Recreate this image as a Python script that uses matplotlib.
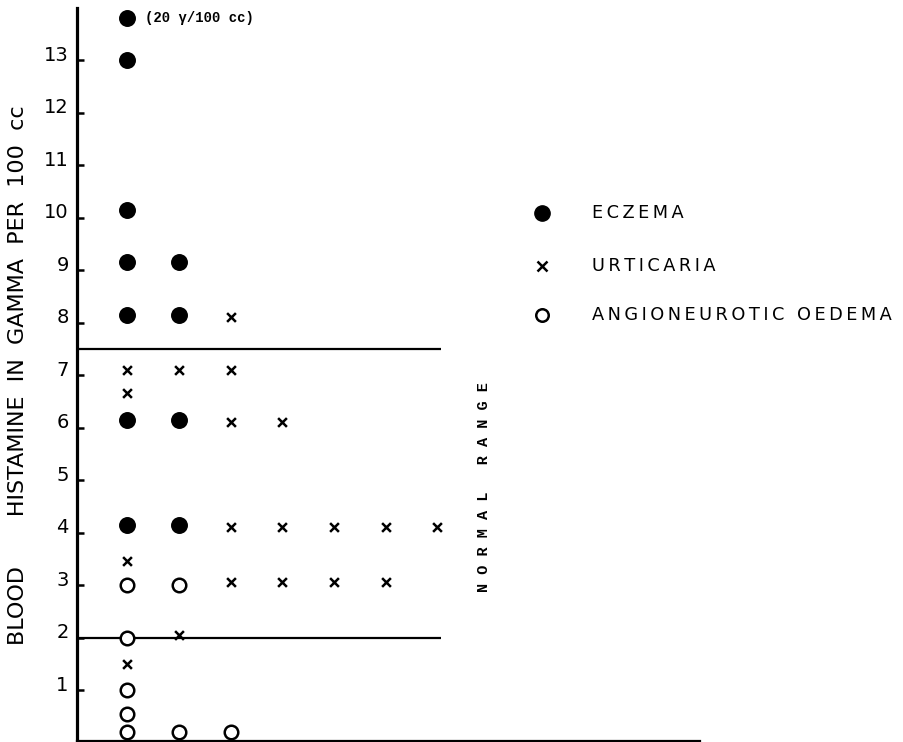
import matplotlib
matplotlib.use("Agg")
import matplotlib.pyplot as plt
from matplotlib.transforms import ScaledTranslation

# ---- data ----
eczema_x = [1, 1, 1, 1, 1, 1, 1, 2, 2, 2, 2]
eczema_y = [13.8, 13.0, 10.15, 9.15, 8.15, 6.15, 4.15, 9.15, 8.15, 6.15, 4.15]

urticaria_x = [1, 1, 1, 1, 2, 2, 3, 3, 3, 3, 3, 4, 4, 4, 5, 5, 6, 6, 7]
urticaria_y = [7.1, 6.65, 3.45, 1.5, 7.1, 2.05, 8.1, 7.1, 6.1, 4.1, 3.05,
               6.1, 4.1, 3.05, 4.1, 3.05, 4.1, 3.05, 4.1]

angio_x = [1, 1, 1, 1, 1, 2, 2, 3]
angio_y = [3.0, 2.0, 1.0, 0.55, 0.2, 3.0, 0.2, 0.2]

normal_low, normal_high = 2.0, 7.5
yticks = list(range(1, 14))
series_names = ["ECZEMA", "URTICARIA", "ANGIONEUROTIC OEDEMA"]
ylabel = "BLOOD       HISTAMINE  IN  GAMMA  PER  100  cc"
off_scale_note = "(20 γ/100 cc)"


def spaced(s):
    # letter-spaced lettering using thin spaces
    return "\u2009".join(s)


# ---- figure ----
W, H = 904, 742
fig = plt.figure(figsize=(W / 100, H / 100), dpi=100)
ax = fig.add_axes([77 / W, 1.5 / H, (700 - 77) / W, (741 - 8) / H])
ax.set_xlim(0.03, 12.08)
ax.set_ylim(0.04, 14.0)

for s in ["top", "right"]:
    ax.spines[s].set_visible(False)
ax.spines["left"].set_linewidth(2.3)
ax.spines["bottom"].set_linewidth(1.6)
ax.set_xticks([])
ax.set_yticks(yticks)
ax.set_yticklabels([str(t) for t in yticks], fontsize=14, family="DejaVu Sans")
ax.tick_params(axis="y", direction="in", length=5, width=1.8, pad=6)
for lab in ax.get_yticklabels():
    lab.set_transform(lab.get_transform() + ScaledTranslation(0, 5 / 72, fig.dpi_scale_trans))

# normal range lines
ax.plot([0.03, 7.07], [normal_high, normal_high], color="black", lw=1.6, solid_capstyle="butt")
ax.plot([0.03, 7.07], [normal_low, normal_low], color="black", lw=1.6, solid_capstyle="butt")

ax.scatter(eczema_x, eczema_y, s=125, c="black", marker="o", zorder=3, clip_on=False)
ax.scatter(urticaria_x, urticaria_y, s=40, c="black", marker="x", linewidths=1.8, zorder=3)
ax.scatter(angio_x, angio_y, s=95, facecolors="white", edgecolors="black", marker="o",
           linewidths=1.8, zorder=3, clip_on=False)

ax.text(1.35, 13.8, off_scale_note, fontsize=10, fontweight="bold",
        family="Liberation Mono", va="center", ha="left")

ax.text(7.9, 4.87, "N O R M A L   R A N G E", rotation=90, fontsize=11,
        fontweight="bold", family="Liberation Mono", va="center", ha="center")

fig.text(18 / W, 1 - 375 / H, ylabel, rotation=90, fontsize=16,
         family="DejaVu Sans", va="center", ha="center")

# legend (manual)
leg_y = [213, 266, 315]
fig.lines.append(plt.Line2D([542 / W], [1 - leg_y[0] / H], marker="o", markersize=11,
                            color="black", transform=fig.transFigure))
fig.lines.append(plt.Line2D([542 / W], [1 - leg_y[1] / H], marker="x", markersize=6.5,
                            mew=1.8, color="black", transform=fig.transFigure))
fig.lines.append(plt.Line2D([542 / W], [1 - leg_y[2] / H], marker="o", markersize=9,
                            mfc="white", mec="black", mew=1.8, transform=fig.transFigure))
for name, yy in zip(series_names, leg_y):
    fig.text(592 / W, 1 - yy / H, spaced(name), fontsize=12.8, family="DejaVu Sans",
             va="center", ha="left")

fig.savefig("out.png", dpi=100)
